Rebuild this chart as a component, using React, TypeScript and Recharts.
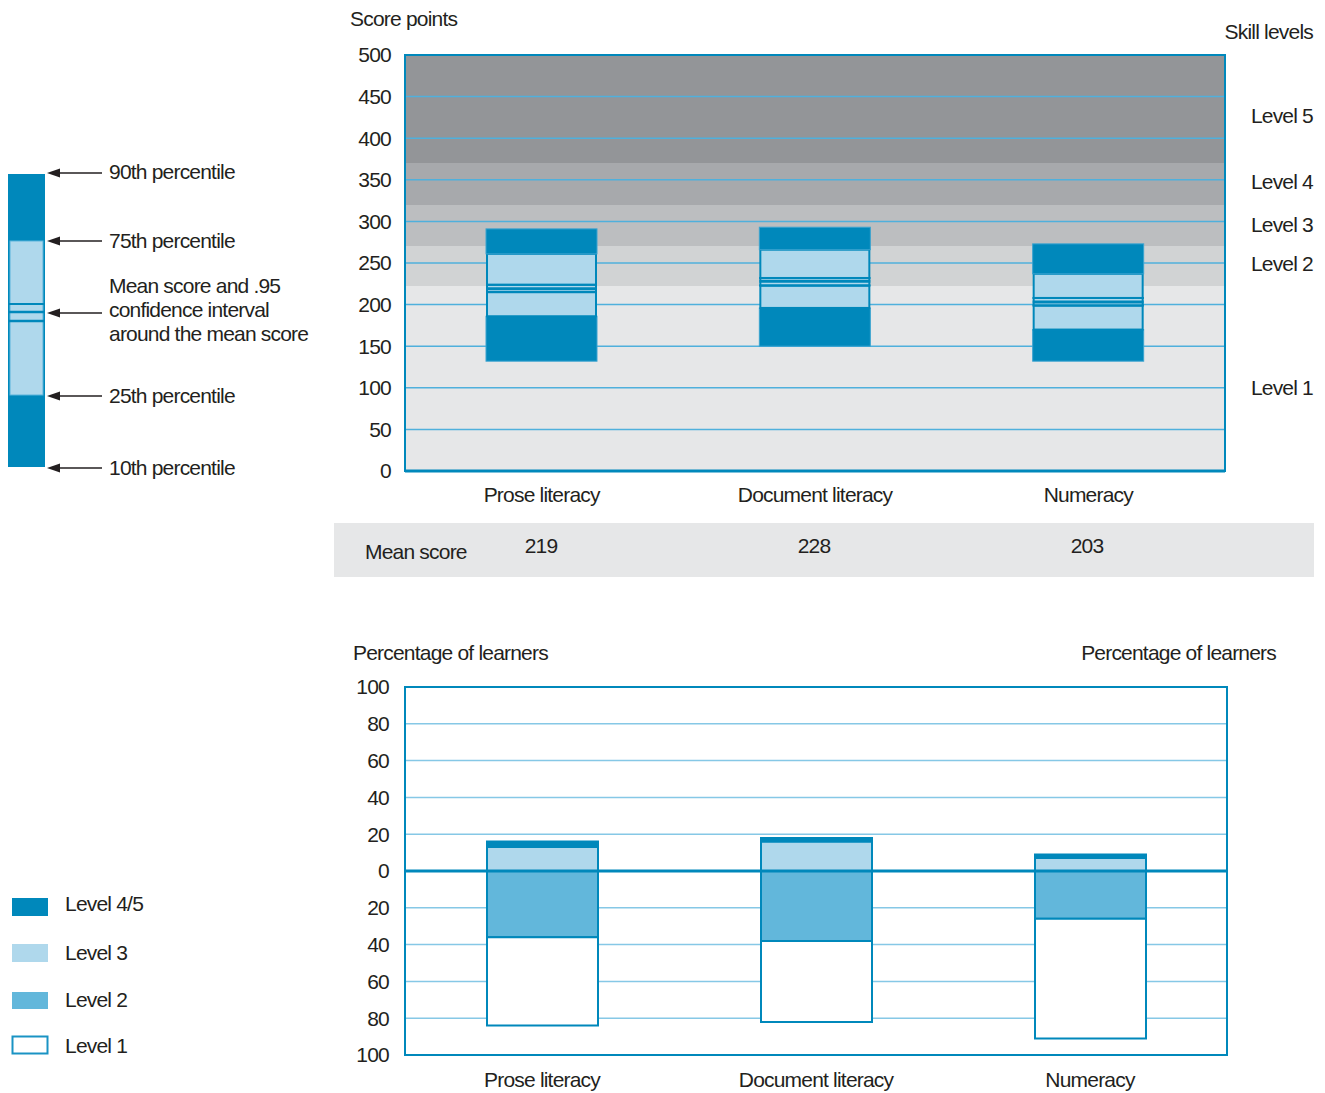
import React from "react";
import {
  ComposedChart,
  BarChart,
  Bar,
  XAxis,
  YAxis,
  CartesianGrid,
  ReferenceArea,
  ReferenceLine,
} from "recharts";

// score distribution per domain
const categories = ["Prose literacy", "Document literacy", "Numeracy"];
const p10 = [132, 150, 132];
const p25 = [186, 196, 170];
const ciLow = [215, 223, 199];
const means = [219, 228, 203];
const ciHigh = [224, 232, 208];
const p75 = [261, 266, 237];
const p90 = [291, 293, 273];

// skill level thresholds (score points), top band first
const levelEdges = [500, 370, 320, 270, 222, 0];
const scoreTicks = [0, 50, 100, 150, 200, 250, 300, 350, 400, 450, 500];

// percentage of learners by level
const level45 = [3, 2, 2];
const level3 = [13, 16, 7];
const level2 = [36, 38, 26];
const level1 = [48, 44, 65];
const pctTicks = [-100, -80, -60, -40, -20, 0, 20, 40, 60, 80, 100];

const BLUE = "#0088bb";
const LIGHT = "#afd8ec";
const MID = "#62b7db";
const TXT = "#231f20";
const FS = 21;
const FONT = "'Liberation Sans', Arial, sans-serif";
// level 5 .. level 1
const bandColors = ["#939598", "#a7a9ac", "#bcbec0", "#d1d3d4", "#e6e7e8"];

const boxData = categories.map((name, i) => ({
  name,
  mean: means[i],
  ciLow: ciLow[i],
  ciHigh: ciHigh[i],
  base: p10[i],
  lowDark: p25[i] - p10[i],
  lowLight: ciLow[i] - p25[i],
  ci: ciHigh[i] - ciLow[i],
  highLight: p75[i] - ciHigh[i],
  highDark: p90[i] - p75[i],
}));

const levelData = categories.map((name, i) => ({
  name,
  l3: level3[i],
  l45: level45[i],
  l2: -level2[i],
  l1: -level1[i],
}));

function Txt({ x, y, anchor = "start", children }: any) {
  const tx = anchor === "end" ? "-100%" : anchor === "middle" ? "-50%" : "0";
  return (
    <div
      style={{
        position: "absolute",
        left: x,
        top: y - 11,
        lineHeight: "22px",
        fontSize: FS,
        whiteSpace: "nowrap",
        transform: `translateX(${tx})`,
      }}
    >
      {children}
    </div>
  );
}

const darkShape = (p: any) => (
  <rect x={p.x} y={p.y} width={p.width} height={p.height} fill={BLUE} stroke="#3aa3d0" strokeWidth={1} />
);
const lightShape = (p: any) => (
  <rect x={p.x + 1} y={p.y} width={p.width - 2} height={p.height} fill={LIGHT} stroke={BLUE} strokeWidth={2} />
);
const ciShape = (p: any) => {
  const { x, y, width, height, payload } = p;
  const my = y + (height * (payload.ciHigh - payload.mean)) / (payload.ciHigh - payload.ciLow);
  return (
    <g>
      <rect x={x + 1} y={y} width={width - 2} height={height} fill={LIGHT} stroke={BLUE} strokeWidth={2} />
      <line x1={x} x2={x + width} y1={y} y2={y} stroke={BLUE} strokeWidth={2} />
      <line x1={x} x2={x + width} y1={my} y2={my} stroke={BLUE} strokeWidth={3} />
      <line x1={x} x2={x + width} y1={y + height} y2={y + height} stroke={BLUE} strokeWidth={2} />
    </g>
  );
};

const tickStyle = { fill: TXT, fontSize: FS };

function RightTick({ x, y, payload }: any) {
  return (
    <text x={x + 45} y={y} dy="0.355em" textAnchor="end" fill={TXT} fontSize={FS}>
      {Math.abs(payload.value)}
    </text>
  );
}

function Arrow({ y }: { y: number }) {
  return (
    <g>
      <line x1={58} x2={102} y1={y} y2={y} stroke={TXT} strokeWidth={1.3} />
      <polygon points={`47,${y} 60,${y - 4.5} 60,${y + 4.5}`} fill={TXT} />
    </g>
  );
}

// skill level bands are drawn as grid stripes at the level thresholds
const bandLines = (props: any) => {
  const s = props?.yAxis?.scale;
  if (typeof s === "function") return levelEdges.map((v) => s(v));
  if (s && typeof s.map === "function") return levelEdges.map((v) => s.map(v));
  const { top, height } = props.offset;
  return levelEdges.map((v) => top + height * (1 - v / 500));
};

export default function App() {
  return (
    <div
      style={{
        position: "absolute",
        left: 0,
        top: 0,
        width: 1325,
        height: 1093,
        background: "#fff",
        fontFamily: FONT,
        letterSpacing: "-0.8px",
        color: TXT,
        overflow: "hidden",
      }}
    >
      {/* key for the box plots */}
      <svg style={{ position: "absolute", left: 0, top: 0 }} width={110} height={480}>
        <rect x={8} y={174} width={37} height={293} fill={BLUE} />
        <rect x={10} y={241} width={33} height={154} fill={LIGHT} stroke="#5ab4dc" strokeWidth={1} />
        <line x1={8} x2={45} y1={304} y2={304} stroke={BLUE} strokeWidth={2} />
        <line x1={8} x2={45} y1={312} y2={312} stroke={BLUE} strokeWidth={2.5} />
        <line x1={8} x2={45} y1={321} y2={321} stroke={BLUE} strokeWidth={2.5} />
        {[173, 241, 313, 396, 468].map((y) => (
          <Arrow key={y} y={y} />
        ))}
      </svg>
      <Txt x={109} y={172}>90th percentile</Txt>
      <Txt x={109} y={241}>75th percentile</Txt>
      <Txt x={109} y={286}>Mean score and .95</Txt>
      <Txt x={109} y={310}>confidence interval</Txt>
      <Txt x={109} y={334}>around the mean score</Txt>
      <Txt x={109} y={396}>25th percentile</Txt>
      <Txt x={109} y={468}>10th percentile</Txt>

      {/* top chart */}
      <Txt x={350} y={19}>Score points</Txt>
      <Txt x={1313} y={32} anchor="end">Skill levels</Txt>
      <Txt x={1313} y={116} anchor="end">Level 5</Txt>
      <Txt x={1313} y={182} anchor="end">Level 4</Txt>
      <Txt x={1313} y={225} anchor="end">Level 3</Txt>
      <Txt x={1313} y={264} anchor="end">Level 2</Txt>
      <Txt x={1313} y={388} anchor="end">Level 1</Txt>
      <div style={{ position: "absolute", left: 330, top: 40 }}>
        <ComposedChart width={990} height={466} data={boxData} margin={{ top: 15, right: 95, left: 15, bottom: 5 }}>
          <CartesianGrid
            vertical={false}
            stroke="none"
            horizontalValues={levelEdges}
            horizontalCoordinatesGenerator={bandLines}
            horizontalFill={bandColors}
            fillOpacity={1}
          />
          <CartesianGrid vertical={false} stroke="#4fb0dc" strokeWidth={1.5} />
          <XAxis
            dataKey="name"
            axisLine={{ stroke: BLUE, strokeWidth: 3 }}
            tickLine={false}
            tick={tickStyle}
            tickMargin={10}
            height={30}
          />
          <YAxis
            domain={[0, 500]}
            ticks={scoreTicks}
            interval={0}
            axisLine={{ stroke: BLUE, strokeWidth: 2 }}
            tickLine={false}
            tick={tickStyle}
            tickMargin={8}
            width={60}
          />
          <Bar dataKey="base" stackId="b" fill="none" barSize={111} isAnimationActive={false} />
          <Bar dataKey="lowDark" stackId="b" shape={darkShape} barSize={111} isAnimationActive={false} />
          <Bar dataKey="lowLight" stackId="b" shape={lightShape} barSize={111} isAnimationActive={false} />
          <Bar dataKey="ci" stackId="b" shape={ciShape} barSize={111} isAnimationActive={false} />
          <Bar dataKey="highLight" stackId="b" shape={lightShape} barSize={111} isAnimationActive={false} />
          <Bar dataKey="highDark" stackId="b" shape={darkShape} barSize={111} isAnimationActive={false} />
          <ReferenceArea y1={0} y2={500} fill="none" stroke={BLUE} strokeWidth={2} />
        </ComposedChart>
      </div>

      {/* mean score row */}
      <div style={{ position: "absolute", left: 334, top: 523, width: 980, height: 54, background: "#e6e7e8" }} />
      <Txt x={365} y={552}>Mean score</Txt>
      {means.map((m, i) => (
        <Txt key={i} x={541 + i * 273} y={546} anchor="middle">
          {m}
        </Txt>
      ))}

      {/* bottom chart */}
      <Txt x={353} y={653}>Percentage of learners</Txt>
      <Txt x={1276} y={653} anchor="end">Percentage of learners</Txt>
      <div style={{ position: "absolute", left: 330, top: 640 }}>
        <BarChart
          width={990}
          height={453}
          data={levelData}
          stackOffset="sign"
          margin={{ top: 47, right: 33, left: 15, bottom: 8 }}
        >
          <CartesianGrid vertical={false} stroke="#86c8e6" strokeWidth={1.5} yAxisId="left" />
          <XAxis dataKey="name" axisLine={false} tickLine={false} tick={tickStyle} tickMargin={11} height={30} />
          <YAxis
            yAxisId="left"
            domain={[-100, 100]}
            ticks={pctTicks}
            interval={0}
            tickFormatter={(v) => String(Math.abs(v))}
            axisLine={false}
            tickLine={false}
            tick={tickStyle}
            tickMargin={10}
            width={60}
          />
          <YAxis
            yAxisId="right"
            orientation="right"
            domain={[-100, 100]}
            ticks={pctTicks}
            interval={0}
            axisLine={false}
            tickLine={false}
            tick={<RightTick />}
            width={60}
          />
          <Bar yAxisId="left" dataKey="l3" stackId="p" fill={LIGHT} stroke={BLUE} strokeWidth={2} barSize={111} isAnimationActive={false} />
          <Bar yAxisId="left" dataKey="l45" stackId="p" fill={BLUE} stroke={BLUE} strokeWidth={2} barSize={111} isAnimationActive={false} />
          <Bar yAxisId="left" dataKey="l2" stackId="p" fill={MID} stroke={BLUE} strokeWidth={2} barSize={111} isAnimationActive={false} />
          <Bar yAxisId="left" dataKey="l1" stackId="p" fill="#ffffff" stroke={BLUE} strokeWidth={2} barSize={111} isAnimationActive={false} />
          <ReferenceLine yAxisId="left" y={0} stroke={BLUE} strokeWidth={3} />
          <ReferenceArea yAxisId="left" y1={-100} y2={100} fill="none" stroke={BLUE} strokeWidth={2} />
        </BarChart>
      </div>

      {/* key for the level bars */}
      <svg style={{ position: "absolute", left: 0, top: 880 }} width={60} height={190}>
        <rect x={12} y={18} width={36} height={18} fill={BLUE} />
        <rect x={12} y={64} width={36} height={18} fill={LIGHT} />
        <rect x={12} y={112} width={36} height={17} fill={MID} />
        <rect x={12.5} y={156.5} width={35} height={17} fill="#fff" stroke="#1a93c4" strokeWidth={2} />
      </svg>
      <Txt x={65} y={904}>Level 4/5</Txt>
      <Txt x={65} y={953}>Level 3</Txt>
      <Txt x={65} y={1000}>Level 2</Txt>
      <Txt x={65} y={1046}>Level 1</Txt>
    </div>
  );
}
